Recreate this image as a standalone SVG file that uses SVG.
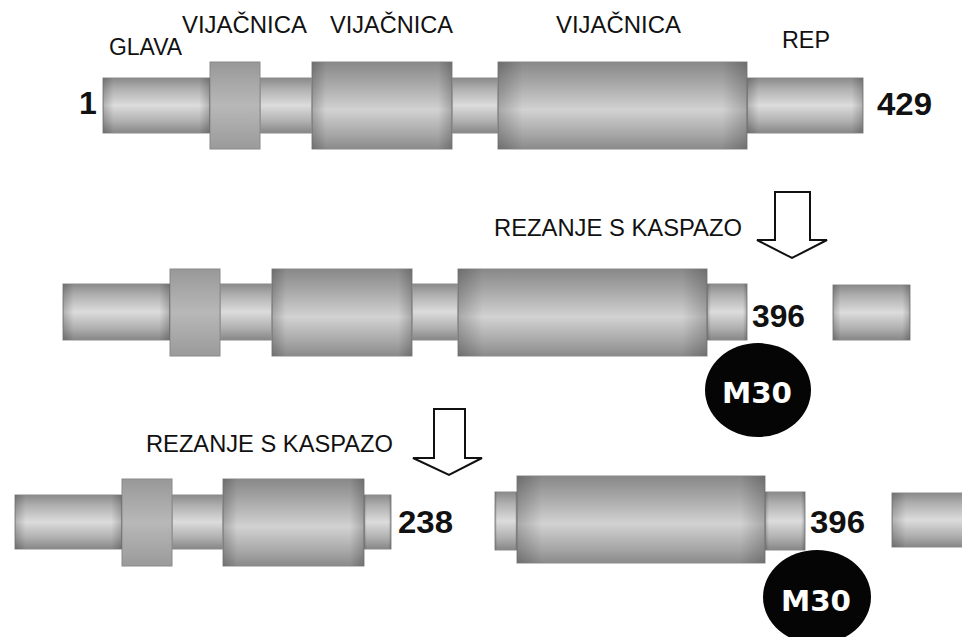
<svg xmlns="http://www.w3.org/2000/svg" width="962" height="637" viewBox="0 0 962 637">
  <style>
    .lbl { font-family: "Liberation Sans", Arial, sans-serif; font-size: 23.5px; fill: #111; }
    .num { font-family: "Liberation Sans", Arial, sans-serif; font-size: 32px; font-weight: bold; fill: #111; }
    .tag { font-family: "DejaVu Sans", sans-serif; font-size: 29px; font-weight: bold; fill: #fff; text-anchor: middle; }
    .thin { fill: url(#gThin); stroke: #8c8c8c; stroke-width: 1; }
    .thick { fill: url(#gThick); stroke: #8a8a8a; stroke-width: 1; }
    .short { fill: url(#gShort); stroke: #8a8a8a; stroke-width: 1; }
    .edge { fill: url(#gEdge); }
    .arrow { fill: #fff; stroke: #111; stroke-width: 2; stroke-linejoin: miter; }
    .badge { fill: #050505; }
  </style>
  <defs>
    <linearGradient id="gThin" x1="0" y1="0" x2="0" y2="1">
      <stop offset="0" stop-color="#8a8a8a"/>
      <stop offset="0.2" stop-color="#b0b0b0"/>
      <stop offset="0.5" stop-color="#dcdcdc"/>
      <stop offset="0.8" stop-color="#aeaeae"/>
      <stop offset="1" stop-color="#868686"/>
    </linearGradient>
    <linearGradient id="gThick" x1="0" y1="0" x2="0" y2="1">
      <stop offset="0" stop-color="#888888"/>
      <stop offset="0.25" stop-color="#a8a8a8"/>
      <stop offset="0.55" stop-color="#d2d2d2"/>
      <stop offset="0.85" stop-color="#a4a4a4"/>
      <stop offset="1" stop-color="#8a8a8a"/>
    </linearGradient>
    <linearGradient id="gShort" x1="0" y1="0" x2="0" y2="1">
      <stop offset="0" stop-color="#989898"/>
      <stop offset="0.5" stop-color="#b8b8b8"/>
      <stop offset="1" stop-color="#9a9a9a"/>
    </linearGradient>
    <linearGradient id="gEdge" x1="0" y1="0" x2="1" y2="0">
      <stop offset="0" stop-color="#000" stop-opacity="0.2"/>
      <stop offset="0.1" stop-color="#000" stop-opacity="0"/>
      <stop offset="0.9" stop-color="#000" stop-opacity="0"/>
      <stop offset="1" stop-color="#000" stop-opacity="0.2"/>
    </linearGradient>
  </defs>

  <rect width="962" height="637" fill="#fff"/>

  <!-- full-length protein, residues 1-429 -->
  <g id="protein-full">
    <rect class="thin" x="103" y="78" width="107" height="55"/>
    <rect class="thin" x="260" y="78" width="52" height="55"/>
    <rect class="thin" x="452" y="78" width="46" height="55"/>
    <rect class="thin" x="747" y="78" width="116" height="55"/>
    <rect class="short" x="210" y="62" width="50" height="87"/>
    <rect class="thick" x="312" y="62" width="140" height="87"/>
    <rect class="thick" x="498" y="62" width="249" height="87"/>
    <rect class="edge" x="103" y="78" width="107" height="55"/>
    <rect class="edge" x="747" y="78" width="116" height="55"/>
    <rect class="edge" x="312" y="62" width="140" height="87"/>
    <rect class="edge" x="498" y="62" width="249" height="87"/>
  </g>
  <g id="labels-full">
    <text class="lbl" x="109" y="55" textLength="73" lengthAdjust="spacingAndGlyphs">GLAVA</text>
    <text class="lbl" x="182" y="33" textLength="125" lengthAdjust="spacingAndGlyphs">VIJAČNICA</text>
    <text class="lbl" x="330" y="33" textLength="123" lengthAdjust="spacingAndGlyphs">VIJAČNICA</text>
    <text class="lbl" x="556" y="33" textLength="125" lengthAdjust="spacingAndGlyphs">VIJAČNICA</text>
    <text class="lbl" x="782" y="48" textLength="48" lengthAdjust="spacingAndGlyphs">REP</text>
    <text class="num" x="79" y="114">1</text>
    <text class="num" x="877" y="115" textLength="55" lengthAdjust="spacingAndGlyphs">429</text>
  </g>

  <!-- after first cleavage: 1-396 with neo-epitope, plus released tail -->
  <g id="protein-396">
    <rect class="thin" x="63" y="284" width="107" height="56"/>
    <rect class="thin" x="220" y="284" width="52" height="56"/>
    <rect class="thin" x="412" y="284" width="46" height="56"/>
    <rect class="thin" x="707" y="284" width="40" height="56"/>
    <rect class="short" x="170" y="269" width="50" height="87"/>
    <rect class="thick" x="272" y="269" width="140" height="87"/>
    <rect class="thick" x="458" y="269" width="249" height="87"/>
    <rect class="edge" x="63" y="284" width="107" height="56"/>
    <rect class="edge" x="707" y="284" width="40" height="56"/>
    <rect class="edge" x="272" y="269" width="140" height="87"/>
    <rect class="edge" x="458" y="269" width="249" height="87"/>
  </g>
  <g id="tail-fragment-1">
    <rect class="thin" x="833" y="285" width="77" height="55"/>
    <rect class="edge" x="833" y="285" width="77" height="55"/>
  </g>
  <g id="labels-396">
    <text class="lbl" x="494" y="236" textLength="248" lengthAdjust="spacingAndGlyphs">REZANJE S KASPAZO</text>
    <text class="num" x="752" y="327" textLength="53" lengthAdjust="spacingAndGlyphs">396</text>
  </g>
  <g id="m30-a">
    <ellipse class="badge" cx="758" cy="390" rx="53" ry="47"/>
    <text class="tag" x="757" y="403" textLength="70" lengthAdjust="spacingAndGlyphs">M30</text>
  </g>

  <!-- after second cleavage: 1-238, 239-396, tail -->
  <g id="protein-238">
    <rect class="thin" x="15" y="495" width="107" height="54"/>
    <rect class="thin" x="172" y="495" width="51" height="54"/>
    <rect class="thin" x="364" y="495" width="27" height="54"/>
    <rect class="short" x="122" y="479" width="50" height="87"/>
    <rect class="thick" x="223" y="479" width="141" height="87"/>
    <rect class="edge" x="15" y="495" width="107" height="54"/>
    <rect class="edge" x="364" y="495" width="27" height="54"/>
    <rect class="edge" x="223" y="479" width="141" height="87"/>
  </g>
  <g id="protein-239-396">
    <rect class="thin" x="495" y="492" width="22" height="58"/>
    <rect class="thin" x="765" y="492" width="40" height="58"/>
    <rect class="thick" x="517" y="476" width="248" height="87"/>
    <rect class="edge" x="495" y="492" width="22" height="58"/>
    <rect class="edge" x="765" y="492" width="40" height="58"/>
    <rect class="edge" x="517" y="476" width="248" height="87"/>
  </g>
  <g id="tail-fragment-2">
    <rect class="thin" x="892" y="493" width="80" height="54"/>
    <rect class="edge" x="892" y="493" width="140" height="54"/>
  </g>
  <g id="labels-238">
    <text class="lbl" x="146" y="452" textLength="247" lengthAdjust="spacingAndGlyphs">REZANJE S KASPAZO</text>
    <text class="num" x="398" y="533" textLength="55" lengthAdjust="spacingAndGlyphs">238</text>
    <text class="num" x="810" y="533" textLength="55" lengthAdjust="spacingAndGlyphs">396</text>
  </g>
  <g id="m30-b">
    <ellipse class="badge" cx="817" cy="597" rx="54" ry="47"/>
    <text class="tag" x="816" y="611" textLength="70" lengthAdjust="spacingAndGlyphs">M30</text>
  </g>

  <!-- cleavage arrows -->
  <g id="connectors">
    <path class="arrow" d="M775,192 H810 V240 H827 L792,258 L757,240 H775 Z"/>
    <path class="arrow" d="M434,409 H465 V458 H482 L449,475 L413,458 H434 Z"/>
  </g>
</svg>
